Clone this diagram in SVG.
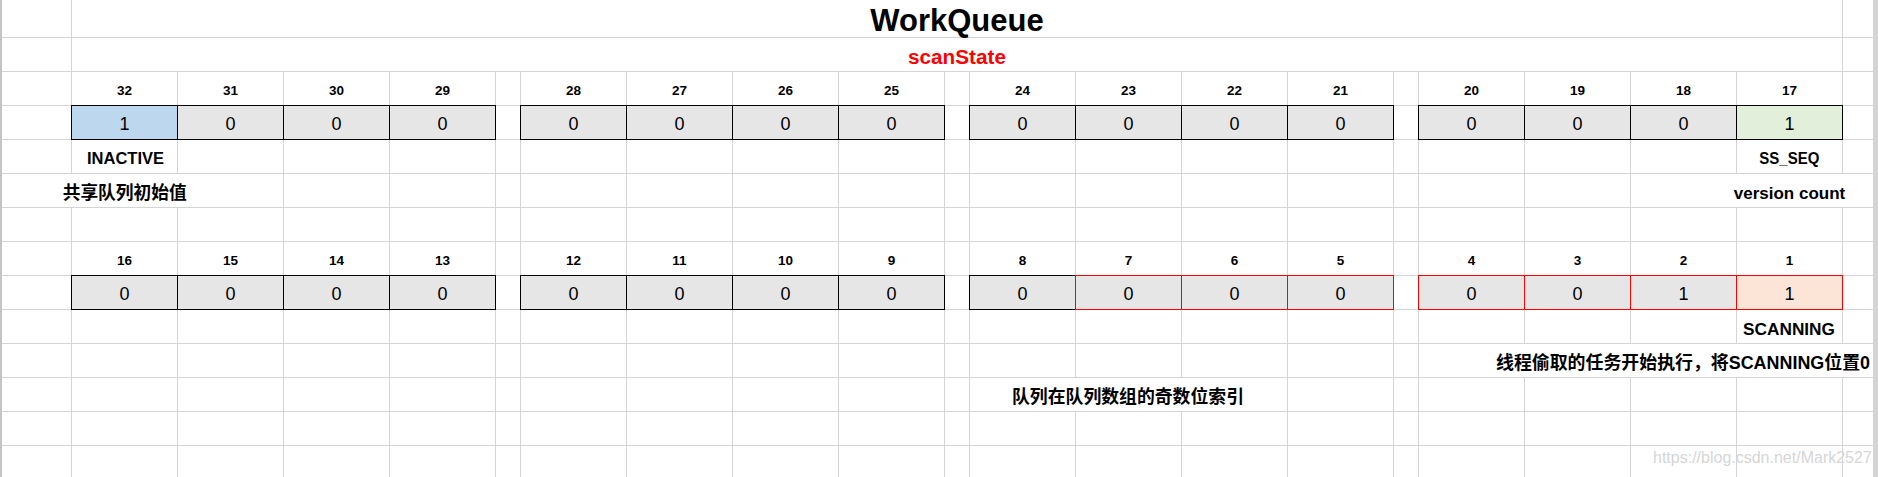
<svg xmlns="http://www.w3.org/2000/svg" width="1878" height="477" viewBox="0 0 1878 477">
<style>
.grid{stroke:#d4d4d4;stroke-width:1;fill:none}
.mask{fill:#ffffff}
.cell rect{fill:#e7e6e6;stroke:#000000;stroke-width:1}
.cell.red rect{stroke:#ff0000}
.cell.blue rect{fill:#bdd7ee}
.cell.green rect{fill:#e2efda}
.cell.orange rect{fill:#fce4d6}
.idx{font-family:'Liberation Sans',Arial,sans-serif;font-size:13.5px;font-weight:bold;text-anchor:middle;fill:#000}
.val{font-family:'Liberation Sans',Arial,sans-serif;font-size:18px;text-anchor:middle;fill:#000}
.lbl{font-family:'Liberation Sans',Arial,sans-serif;font-size:17px;font-weight:bold;text-anchor:middle;fill:#000}
.cjk{font-family:'Liberation Sans','Noto Sans CJK SC',sans-serif;font-size:18px;font-weight:bold;text-anchor:middle;fill:#000}
</style>
<rect x="0" y="0" width="1878" height="477" fill="#ffffff"/>
<g id="gridlines">
<path class="grid" d="M0 37.5H1873M0 71.5H1873M0 105.5H1873M0 139.5H1873M0 173.5H1873M0 207.5H1873M0 241.5H1873M0 275.5H1873M0 309.5H1873M0 343.5H1873M0 377.5H1873M0 411.5H1873M0 445.5H1873"/>
<path class="grid" d="M71.5 0V477M1842.5 0V477M177.5 71.5V477M283.5 71.5V477M389.5 71.5V477M495.5 71.5V477M520.5 71.5V477M626.5 71.5V477M732.5 71.5V477M838.5 71.5V477M944.5 71.5V477M969.5 71.5V477M1075.5 71.5V477M1181.5 71.5V477M1287.5 71.5V477M1393.5 71.5V477M1418.5 71.5V477M1524.5 71.5V477M1630.5 71.5V477M1736.5 71.5V477"/>
<rect x="0" y="0" width="2" height="477" fill="#c4c4c4"/>
<rect x="1873" y="0" width="5" height="477" fill="#d4d4d4"/>
<rect class="mask" x="60" y="174" width="130" height="33"/>
<rect class="mask" x="1731" y="174" width="117" height="33"/>
<rect class="mask" x="1494" y="344" width="378" height="33"/>
<rect class="mask" x="970" y="378" width="317" height="33"/>
</g>
<g id="title"><text x="957" y="30.7" font-family="'Liberation Sans',Arial,sans-serif" font-size="31" font-weight="bold" text-anchor="middle" fill="#000">WorkQueue</text></g>
<g id="subtitle"><text x="957" y="64" font-family="'Liberation Sans',Arial,sans-serif" font-size="20" font-weight="bold" text-anchor="middle" fill="#ff0000" textLength="98" lengthAdjust="spacingAndGlyphs">scanState</text></g>
<g id="row-high">
<g id="bit32" class="cell blue"><text class="idx" x="124.5" y="95">32</text><rect x="71.5" y="105.5" width="106" height="34"/><text class="val" x="124.5" y="130">1</text></g>
<g id="bit31" class="cell"><text class="idx" x="230.5" y="95">31</text><rect x="177.5" y="105.5" width="106" height="34"/><text class="val" x="230.5" y="130">0</text></g>
<g id="bit30" class="cell"><text class="idx" x="336.5" y="95">30</text><rect x="283.5" y="105.5" width="106" height="34"/><text class="val" x="336.5" y="130">0</text></g>
<g id="bit29" class="cell"><text class="idx" x="442.5" y="95">29</text><rect x="389.5" y="105.5" width="106" height="34"/><text class="val" x="442.5" y="130">0</text></g>
<g id="bit28" class="cell"><text class="idx" x="573.5" y="95">28</text><rect x="520.5" y="105.5" width="106" height="34"/><text class="val" x="573.5" y="130">0</text></g>
<g id="bit27" class="cell"><text class="idx" x="679.5" y="95">27</text><rect x="626.5" y="105.5" width="106" height="34"/><text class="val" x="679.5" y="130">0</text></g>
<g id="bit26" class="cell"><text class="idx" x="785.5" y="95">26</text><rect x="732.5" y="105.5" width="106" height="34"/><text class="val" x="785.5" y="130">0</text></g>
<g id="bit25" class="cell"><text class="idx" x="891.5" y="95">25</text><rect x="838.5" y="105.5" width="106" height="34"/><text class="val" x="891.5" y="130">0</text></g>
<g id="bit24" class="cell"><text class="idx" x="1022.5" y="95">24</text><rect x="969.5" y="105.5" width="106" height="34"/><text class="val" x="1022.5" y="130">0</text></g>
<g id="bit23" class="cell"><text class="idx" x="1128.5" y="95">23</text><rect x="1075.5" y="105.5" width="106" height="34"/><text class="val" x="1128.5" y="130">0</text></g>
<g id="bit22" class="cell"><text class="idx" x="1234.5" y="95">22</text><rect x="1181.5" y="105.5" width="106" height="34"/><text class="val" x="1234.5" y="130">0</text></g>
<g id="bit21" class="cell"><text class="idx" x="1340.5" y="95">21</text><rect x="1287.5" y="105.5" width="106" height="34"/><text class="val" x="1340.5" y="130">0</text></g>
<g id="bit20" class="cell"><text class="idx" x="1471.5" y="95">20</text><rect x="1418.5" y="105.5" width="106" height="34"/><text class="val" x="1471.5" y="130">0</text></g>
<g id="bit19" class="cell"><text class="idx" x="1577.5" y="95">19</text><rect x="1524.5" y="105.5" width="106" height="34"/><text class="val" x="1577.5" y="130">0</text></g>
<g id="bit18" class="cell"><text class="idx" x="1683.5" y="95">18</text><rect x="1630.5" y="105.5" width="106" height="34"/><text class="val" x="1683.5" y="130">0</text></g>
<g id="bit17" class="cell green"><text class="idx" x="1789.5" y="95">17</text><rect x="1736.5" y="105.5" width="106" height="34"/><text class="val" x="1789.5" y="130">1</text></g>
</g>
<g id="row-low">
<g id="bit16" class="cell"><text class="idx" x="124.5" y="265">16</text><rect x="71.5" y="275.5" width="106" height="34"/><text class="val" x="124.5" y="300">0</text></g>
<g id="bit15" class="cell"><text class="idx" x="230.5" y="265">15</text><rect x="177.5" y="275.5" width="106" height="34"/><text class="val" x="230.5" y="300">0</text></g>
<g id="bit14" class="cell"><text class="idx" x="336.5" y="265">14</text><rect x="283.5" y="275.5" width="106" height="34"/><text class="val" x="336.5" y="300">0</text></g>
<g id="bit13" class="cell"><text class="idx" x="442.5" y="265">13</text><rect x="389.5" y="275.5" width="106" height="34"/><text class="val" x="442.5" y="300">0</text></g>
<g id="bit12" class="cell"><text class="idx" x="573.5" y="265">12</text><rect x="520.5" y="275.5" width="106" height="34"/><text class="val" x="573.5" y="300">0</text></g>
<g id="bit11" class="cell"><text class="idx" x="679.5" y="265">11</text><rect x="626.5" y="275.5" width="106" height="34"/><text class="val" x="679.5" y="300">0</text></g>
<g id="bit10" class="cell"><text class="idx" x="785.5" y="265">10</text><rect x="732.5" y="275.5" width="106" height="34"/><text class="val" x="785.5" y="300">0</text></g>
<g id="bit9" class="cell"><text class="idx" x="891.5" y="265">9</text><rect x="838.5" y="275.5" width="106" height="34"/><text class="val" x="891.5" y="300">0</text></g>
<g id="bit8" class="cell"><text class="idx" x="1022.5" y="265">8</text><rect x="969.5" y="275.5" width="106" height="34"/><text class="val" x="1022.5" y="300">0</text></g>
<g id="bit7" class="cell red"><text class="idx" x="1128.5" y="265">7</text><rect x="1075.5" y="275.5" width="106" height="34"/><text class="val" x="1128.5" y="300">0</text></g>
<g id="bit6" class="cell red"><text class="idx" x="1234.5" y="265">6</text><rect x="1181.5" y="275.5" width="106" height="34"/><text class="val" x="1234.5" y="300">0</text></g>
<g id="bit5" class="cell red"><text class="idx" x="1340.5" y="265">5</text><rect x="1287.5" y="275.5" width="106" height="34"/><text class="val" x="1340.5" y="300">0</text></g>
<g id="bit4" class="cell red"><text class="idx" x="1471.5" y="265">4</text><rect x="1418.5" y="275.5" width="106" height="34"/><text class="val" x="1471.5" y="300">0</text></g>
<g id="bit3" class="cell red"><text class="idx" x="1577.5" y="265">3</text><rect x="1524.5" y="275.5" width="106" height="34"/><text class="val" x="1577.5" y="300">0</text></g>
<g id="bit2" class="cell red"><text class="idx" x="1683.5" y="265">2</text><rect x="1630.5" y="275.5" width="106" height="34"/><text class="val" x="1683.5" y="300">1</text></g>
<g id="bit1" class="cell red orange"><text class="idx" x="1789.5" y="265">1</text><rect x="1736.5" y="275.5" width="106" height="34"/><text class="val" x="1789.5" y="300">1</text></g>
</g>
<g id="labels">
<g id="lbl-inactive"><text class="lbl" x="125.5" y="163.5" textLength="77" lengthAdjust="spacingAndGlyphs">INACTIVE</text></g>
<g id="lbl-shared"><text class="cjk" x="124.7" y="198.5" textLength="124" lengthAdjust="spacingAndGlyphs">共享队列初始值</text></g>
<g id="lbl-ssseq"><text class="lbl" x="1789.3" y="163.5" textLength="60" lengthAdjust="spacingAndGlyphs">SS_SEQ</text></g>
<g id="lbl-version"><text class="lbl" x="1789.5" y="199">version count</text></g>
<g id="lbl-scanning"><text class="lbl" x="1789" y="334.5" textLength="92" lengthAdjust="spacingAndGlyphs">SCANNING</text></g>
<g id="lbl-steal"><text class="cjk" x="1683" y="369" textLength="374" lengthAdjust="spacingAndGlyphs">线程偷取的任务开始执行，将SCANNING位置0</text></g>
<g id="lbl-odd"><text class="cjk" x="1128" y="402.5" textLength="232" lengthAdjust="spacingAndGlyphs">队列在队列数组的奇数位索引</text></g>
<g id="watermark"><text x="1653" y="463" font-family="'Liberation Sans',Arial,sans-serif" font-size="16" fill="#d6d6d6">https://blog.csdn.net/Mark2527</text></g>
</g>
</svg>
